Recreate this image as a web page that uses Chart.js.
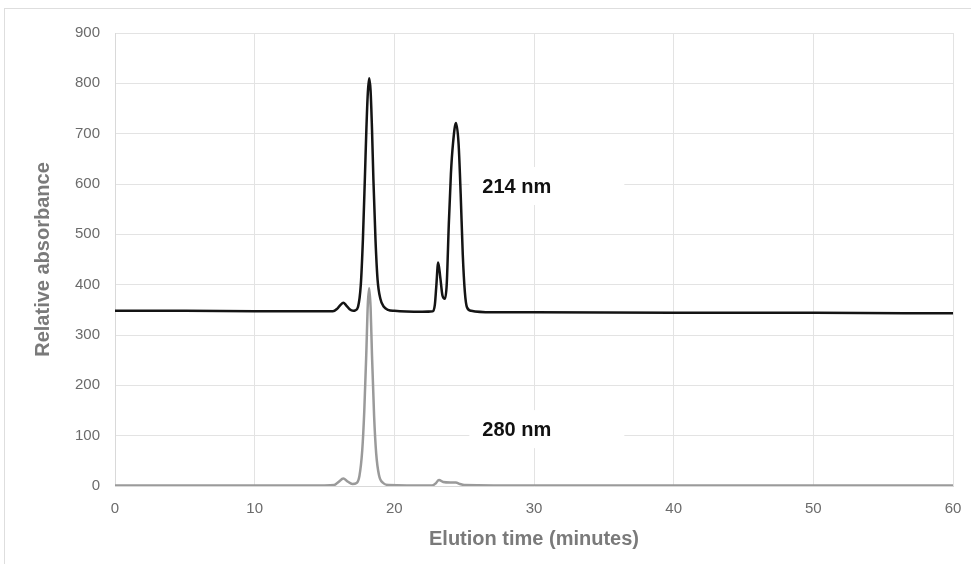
<!DOCTYPE html>
<html>
<head>
<meta charset="utf-8">
<script src="https://cdn.jsdelivr.net/npm/chart.js@4"></script>
<style>
  html, body { margin: 0; padding: 0; background: #fff; overflow: hidden; }
  #wrap { width: 971px; height: 564px; position: relative; }
  canvas { display: block; }
</style>
</head>
<body>
<div id="wrap"><canvas id="myChart"></canvas></div>
<script>
// elution time (min) and absorbance
const time214 = [0, 5, 10, 15, 15.6, 15.9, 16.15, 16.35, 16.55, 16.8, 17.05, 17.2, 17.4, 17.6, 17.75, 17.9, 18.0, 18.1, 18.2, 18.3, 18.4, 18.5, 18.65, 18.8, 19.0, 19.25, 19.55, 20, 22, 22.75, 22.9, 23.0, 23.14, 23.3, 23.45, 23.62, 23.75, 23.9, 24.05, 24.2, 24.41, 24.6, 24.75, 24.9, 25.05, 25.2, 25.5, 27, 30, 40, 50, 60];
const abs214 = [348, 348, 347, 347, 347, 352, 360, 364, 359, 351, 348, 349, 356, 400, 490, 620, 710, 780, 810, 785, 710, 610, 490, 410, 372, 356, 350, 348, 346, 347, 360, 395, 444, 412, 378, 372, 400, 520, 620, 680, 721, 680, 580, 460, 385, 355, 348, 345, 345, 344, 344, 343];

const time280 = [0, 10, 15, 15.7, 16.0, 16.35, 16.65, 17.0, 17.3, 17.5, 17.7, 17.85, 18.0, 18.1, 18.2, 18.3, 18.4, 18.55, 18.7, 18.9, 19.2, 19.6, 22.7, 22.95, 23.2, 23.5, 24.0, 24.4, 24.7, 25.0, 30, 60];
const abs280 = [1, 1, 1, 2, 8, 15, 9, 4, 6, 20, 70, 150, 270, 360, 393, 355, 260, 140, 65, 22, 6, 2, 1, 5, 12, 8, 7, 7, 4, 2, 1, 1];

const xTicks = [0, 10, 20, 30, 40, 50, 60];
const yTicks = [0, 100, 200, 300, 400, 500, 600, 700, 800, 900];

const seriesLabels = [
  { text: "214 nm", x: 26.3, y: 596 },
  { text: "280 nm", x: 26.3, y: 113 }
];

const toPoints = (xs, ys) => xs.map((x, i) => ({ x: x, y: ys[i] }));

const frame = {
  id: "frame",
  beforeDraw(chart) {
    const c = chart.ctx;
    c.save();
    c.fillStyle = "#fff";
    c.fillRect(0, 0, chart.width, chart.height);
    c.strokeStyle = "#dedede";
    c.lineWidth = 1;
    c.strokeRect(4.5, 8.5, 2000, 2000);
    c.restore();
  }
};

const labelBoxes = {
  id: "labelBoxes",
  beforeDatasetsDraw(chart) {
    const c = chart.ctx;
    const xs = chart.scales.x, ys = chart.scales.y;
    c.save();
    c.font = "bold 20px 'Liberation Sans', Arial, sans-serif";
    c.textBaseline = "middle";
    seriesLabels.forEach((l) => {
      const px = xs.getPixelForValue(l.x);
      const py = ys.getPixelForValue(l.y);
      c.fillStyle = "#fff";
      c.fillRect(px - 13, py - 19, 155, 38);
      c.fillStyle = "#111";
      c.fillText(l.text, px, py + 1);
    });
    c.restore();
  }
};

const tickFont = { family: "'Liberation Sans', Arial, sans-serif", size: 15 };
const titleFont = { family: "'Liberation Sans', Arial, sans-serif", size: 20, weight: "bold" };

new Chart(document.getElementById("myChart"), {
  type: "line",
  data: {
    datasets: [
      {
        label: "214 nm",
        data: toPoints(time214, abs214),
        borderColor: "#141414",
        borderWidth: 2.5,
        pointRadius: 0,
        cubicInterpolationMode: "monotone",
        fill: false
      },
      {
        label: "280 nm",
        data: toPoints(time280, abs280),
        borderColor: "#9a9a9a",
        borderWidth: 2.5,
        pointRadius: 0,
        cubicInterpolationMode: "monotone",
        fill: false
      }
    ]
  },
  options: {
    responsive: true,
    maintainAspectRatio: false,
    animation: false,
    layout: { padding: { top: 33, right: 18, left: 0, bottom: 0 } },
    plugins: {
      legend: { display: false },
      tooltip: { enabled: false }
    },
    scales: {
      x: {
        type: "linear",
        min: 0,
        max: 60,
        afterBuildTicks: (s) => { s.ticks = xTicks.map((v) => ({ value: v })); },
        afterFit: (s) => { s.height = 78; s.paddingLeft = 0; s.paddingRight = 0; },
        grid: { color: "#e3e3e3", drawTicks: false },
        border: { color: "#d9d9d9" },
        ticks: { color: "#6b6b6b", font: tickFont, padding: 14 },
        title: {
          display: true,
          text: "Elution time (minutes)",
          color: "#7a7a7a",
          font: titleFont,
          padding: { top: 4, bottom: 13 }
        }
      },
      y: {
        min: 0,
        max: 900,
        afterBuildTicks: (s) => { s.ticks = yTicks.map((v) => ({ value: v })); },
        afterFit: (s) => { s.width = 115; s.paddingTop = 0; s.paddingBottom = 0; },
        grid: { color: "#e3e3e3", drawTicks: false },
        border: { color: "#d9d9d9" },
        ticks: { color: "#6b6b6b", font: tickFont, padding: 15 },
        title: {
          display: true,
          text: "Relative absorbance",
          color: "#7a7a7a",
          font: titleFont,
          padding: { top: 31, bottom: 0 }
        }
      }
    }
  },
  plugins: [frame, labelBoxes]
});
</script>
</body>
</html>
